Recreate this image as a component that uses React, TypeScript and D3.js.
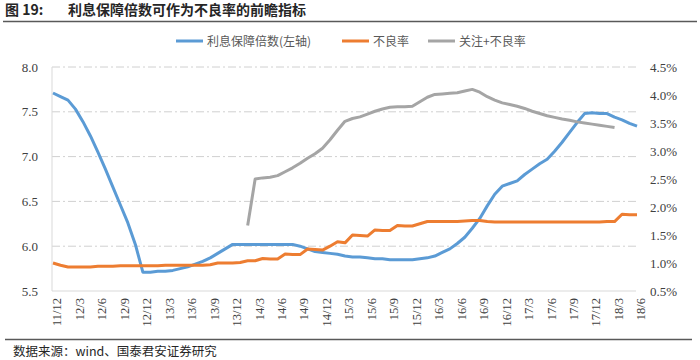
import { useEffect, useRef } from "react";
import * as d3 from "d3";

// monthly categories 2011/12 .. 2018/6
const months: string[] = [];
for (let y = 11, m = 12; months.length < 79; ) {
  months.push(`${y}/${m}`);
  m++;
  if (m > 12) { m = 1; y++; }
}

const tickLabels = [
  "11/12", "12/3", "12/6", "12/9", "12/12", "13/3", "13/6", "13/9", "13/12",
  "14/3", "14/6", "14/9", "14/12", "15/3", "15/6", "15/9", "15/12", "16/3",
  "16/6", "16/9", "16/12", "17/3", "17/6", "17/9", "17/12", "18/3", "18/6",
];

// 利息保障倍数 (left axis)
const coverage = [
  7.71, 7.67, 7.63, 7.53, 7.39, 7.23, 7.05, 6.86, 6.66, 6.46,
  6.26, 6.02, 5.71, 5.71, 5.72, 5.72, 5.73, 5.75, 5.77, 5.80,
  5.83, 5.87, 5.92, 5.97, 6.02, 6.02, 6.02, 6.02, 6.02, 6.02,
  6.02, 6.02, 6.02, 6.00, 5.97, 5.94, 5.93, 5.92, 5.91, 5.89,
  5.88, 5.88, 5.87, 5.86, 5.86, 5.85, 5.85, 5.85, 5.85, 5.86,
  5.87, 5.89, 5.93, 5.97, 6.03, 6.10, 6.20, 6.31, 6.45, 6.58,
  6.67, 6.70, 6.73, 6.80, 6.86, 6.92, 6.97, 7.06, 7.16, 7.27,
  7.38, 7.48, 7.49, 7.48, 7.48, 7.44, 7.41, 7.37, 7.34,
];

// 不良率 % (right axis)
const nplRatio = [
  1.00, 0.96, 0.93, 0.93, 0.93, 0.93, 0.94, 0.94, 0.94, 0.95,
  0.95, 0.95, 0.95, 0.95, 0.95, 0.96, 0.96, 0.96, 0.96, 0.96,
  0.96, 0.97, 1.00, 1.00, 1.00, 1.01, 1.04, 1.04, 1.08, 1.07,
  1.07, 1.16, 1.15, 1.15, 1.25, 1.24, 1.23, 1.30, 1.38, 1.36,
  1.50, 1.49, 1.48, 1.59, 1.58, 1.58, 1.67, 1.66, 1.66, 1.70,
  1.74, 1.74, 1.74, 1.74, 1.74, 1.75, 1.76, 1.76, 1.74, 1.73,
  1.73, 1.73, 1.73, 1.73, 1.73, 1.73, 1.73, 1.73, 1.73, 1.73,
  1.73, 1.73, 1.73, 1.73, 1.74, 1.74, 1.87, 1.86, 1.86,
];

// 关注+不良率 % (right axis)
const specialNpl: (number | null)[] = [
  null, null, null, null, null, null, null, null, null, null,
  null, null, null, null, null, null, null, null, null, null,
  null, null, null, null, null, null,
  1.67, 2.50, 2.52, 2.53, 2.56, 2.63, 2.70, 2.78, 2.87, 2.95,
  3.05, 3.20, 3.37, 3.53, 3.58, 3.61, 3.66, 3.71, 3.75, 3.78,
  3.79, 3.79, 3.80, 3.88, 3.96, 4.01, 4.02, 4.03, 4.04, 4.07,
  4.10, 4.05, 3.97, 3.91, 3.86, 3.83, 3.80, 3.76, 3.71, 3.67,
  3.63, 3.60, 3.57, 3.55, 3.52, 3.50, 3.48, 3.46, 3.44, 3.42,
  null, null, null,
];

const leftTicks = [5.5, 6.0, 6.5, 7.0, 7.5, 8.0];
const rightTicks = [0.5, 1.0, 1.5, 2.0, 2.5, 3.0, 3.5, 4.0, 4.5];

const seriesNames = ["利息保障倍数(左轴)", "不良率", "关注+不良率"];
const colors = ["#5B9BD5", "#ED7D31", "#A5A5A5"];

const CJK = "'Noto Sans CJK SC', 'Noto Sans', sans-serif";
const SERIF = "'Liberation Serif', 'Times New Roman', serif";

export default function App() {
  const svgRef = useRef(null);

  useEffect(() => {
    const width = 700, height = 360;
    const plot = { left: 52, right: 636, top: 67, bottom: 291 };

    const svg = d3.select(svgRef.current)
      .attr("width", width)
      .attr("height", height);
    svg.selectAll("*").remove();

    const x = d3.scalePoint<string>().domain(months).range([53, 637]);
    const yL = d3.scaleLinear().domain([5.5, 8]).range([plot.bottom, plot.top]);
    const yR = d3.scaleLinear().domain([0.5, 4.5]).range([plot.bottom, plot.top]);

    // title
    svg.append("text")
      .attr("x", 5).attr("y", 15)
      .style("font-family", CJK).style("font-size", "14px").style("font-weight", "bold")
      .attr("fill", "#262626")
      .text("图 19:");
    svg.append("text")
      .attr("x", 68).attr("y", 15)
      .style("font-family", CJK).style("font-size", "14px").style("font-weight", "bold")
      .attr("fill", "#262626")
      .text("利息保障倍数可作为不良率的前瞻指标");
    svg.append("line")
      .attr("x1", 3).attr("x2", 697).attr("y1", 21.5).attr("y2", 21.5)
      .attr("stroke", "#595959").attr("stroke-width", 1.5);

    // legend
    const legendX = [176, 342, 428];
    seriesNames.forEach((name, i) => {
      svg.append("line")
        .attr("x1", legendX[i]).attr("x2", legendX[i] + 27)
        .attr("y1", 41).attr("y2", 41)
        .attr("stroke", colors[i]).attr("stroke-width", 3);
      svg.append("text")
        .attr("x", legendX[i] + 31).attr("y", 45.5)
        .style("font-family", CJK).style("font-size", "12px")
        .attr("fill", "#595959")
        .text(name);
    });

    // gridlines
    svg.append("g")
      .selectAll("line")
      .data(leftTicks.filter(d => d > 5.5))
      .join("line")
      .attr("x1", plot.left).attr("x2", plot.right)
      .attr("y1", d => yL(d)).attr("y2", d => yL(d))
      .attr("stroke", "#D0D0D0").attr("stroke-width", 1)
      .attr("stroke-dasharray", "8,3,2,3");

    // axes lines
    svg.append("line")
      .attr("x1", plot.left).attr("x2", plot.left)
      .attr("y1", plot.top).attr("y2", plot.bottom)
      .attr("stroke", "#D9D9D9");
    svg.append("line")
      .attr("x1", plot.left).attr("x2", plot.right)
      .attr("y1", plot.bottom).attr("y2", plot.bottom)
      .attr("stroke", "#D9D9D9");

    // left axis labels
    svg.append("g")
      .selectAll("text")
      .data(leftTicks)
      .join("text")
      .attr("x", 38).attr("y", d => yL(d))
      .attr("dy", "0.35em")
      .attr("text-anchor", "end")
      .style("font-family", SERIF).style("font-size", "13px")
      .attr("fill", "#404040")
      .text(d => d.toFixed(1));

    // right axis labels
    svg.append("g")
      .selectAll("text")
      .data(rightTicks)
      .join("text")
      .attr("x", 650).attr("y", d => yR(d))
      .attr("dy", "0.35em")
      .style("font-family", SERIF).style("font-size", "13px")
      .attr("fill", "#404040")
      .text(d => d.toFixed(1) + "%");

    // x labels (rotated)
    svg.append("g")
      .selectAll("text")
      .data(tickLabels)
      .join("text")
      .attr("transform", d => `translate(${(x(d) ?? 0) + 4},298) rotate(-90)`)
      .attr("text-anchor", "end")
      .attr("dy", "0.35em")
      .style("font-family", SERIF).style("font-size", "12.5px")
      .attr("fill", "#404040")
      .text(d => d);

    // lines
    const lineL = d3.line<number>()
      .x((_, i) => x(months[i]) ?? 0)
      .y(d => yL(d));
    const lineR = d3.line<number | null>()
      .defined(d => d != null)
      .x((_, i) => x(months[i]) ?? 0)
      .y(d => yR(d as number));

    svg.append("path")
      .datum(coverage)
      .attr("d", lineL)
      .attr("fill", "none").attr("stroke", colors[0]).attr("stroke-width", 3)
      .attr("stroke-linejoin", "round");
    svg.append("path")
      .datum(nplRatio)
      .attr("d", lineR)
      .attr("fill", "none").attr("stroke", colors[1]).attr("stroke-width", 3)
      .attr("stroke-linejoin", "round");
    svg.append("path")
      .datum(specialNpl)
      .attr("d", lineR)
      .attr("fill", "none").attr("stroke", colors[2]).attr("stroke-width", 3)
      .attr("stroke-linejoin", "round");

    // footer
    svg.append("line")
      .attr("x1", 5).attr("x2", 692).attr("y1", 339.5).attr("y2", 339.5)
      .attr("stroke", "#595959").attr("stroke-width", 1.5);
    svg.append("text")
      .attr("x", 13).attr("y", 356)
      .style("font-family", CJK).style("font-size", "12.5px")
      .attr("fill", "#262626")
      .text("数据来源：wind、国泰君安证券研究");
  }, []);

  return <svg ref={svgRef} style={{ position: "absolute", left: 0, top: 0 }} />;
}
